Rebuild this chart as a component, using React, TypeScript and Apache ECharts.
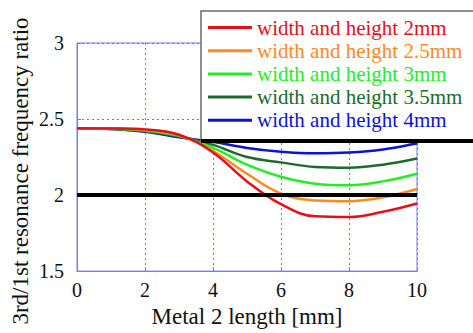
import React, { useEffect, useRef } from "react";
import * as echarts from "echarts";

const xValues = [0, 1, 2, 3, 4, 5, 6, 7, 8, 9, 10];
const seriesNames = [
  "width and height 2mm",
  "width and height 2.5mm",
  "width and height 3mm",
  "width and height 3.5mm",
  "width and height 4mm",
];
const seriesColors = ["#e5101a", "#ff8a1e", "#22ee22", "#1c6b2c", "#0c12d6"];
const ratio2mm = [2.44, 2.438, 2.432, 2.397, 2.28, 2.09, 1.94, 1.86, 1.855, 1.89, 1.945];
const ratio25mm = [2.44, 2.437, 2.428, 2.393, 2.29, 2.14, 2.01, 1.965, 1.96, 1.985, 2.04];
const ratio3mm = [2.44, 2.436, 2.424, 2.389, 2.31, 2.2, 2.12, 2.075, 2.065, 2.09, 2.14];
const ratio35mm = [2.44, 2.435, 2.42, 2.385, 2.33, 2.25, 2.215, 2.185, 2.18, 2.2, 2.24];
const ratio4mm = [2.44, 2.434, 2.416, 2.38, 2.35, 2.31, 2.285, 2.275, 2.28, 2.3, 2.34];
const allRatios = [ratio2mm, ratio25mm, ratio3mm, ratio35mm, ratio4mm];
const thresholdLine = [2, 2];
const thresholdX = [0, 10];

const FONT = "'Liberation Serif', 'Times New Roman', serif";
const AXIS_BLUE = "#7878ff";

export default function App() {
  const ref = useRef<HTMLDivElement>(null);
  useEffect(() => {
    document.body.style.margin = "0";
    const chart = echarts.init(ref.current!, null, { renderer: "svg" });
    const lineSeries = allRatios.map((vals, i) => ({
      name: seriesNames[i],
      type: "line",
      smooth: 0.4,
      showSymbol: false,
      symbol: "none",
      z: 2 + (4 - i) * 0.01,
      lineStyle: { color: seriesColors[i], width: 2.5 },
      itemStyle: { color: seriesColors[i] },
      data: xValues.map((x, j) => [x, vals[j]]),
    }));
    chart.setOption({
      animation: false,
      grid: {
        left: 77,
        top: 43,
        right: 56,
        bottom: 50,
        show: true,
        borderColor: AXIS_BLUE,
        borderWidth: 1,
      },
      xAxis: {
        type: "value",
        min: 0,
        max: 10,
        interval: 2,
        name: "Metal 2 length [mm]",
        nameLocation: "middle",
        nameGap: 24,
        nameTextStyle: { fontFamily: FONT, fontSize: 23, color: "#111" },
        axisLine: { show: true, lineStyle: { color: AXIS_BLUE, width: 1 } },
        axisTick: { show: true, inside: true, length: 4, lineStyle: { color: AXIS_BLUE } },
        axisLabel: { fontFamily: FONT, fontSize: 20, color: "#111", margin: 9 },
        splitLine: { show: true, lineStyle: { color: "#7070ff", type: [2, 3], width: 1 } },
      },
      yAxis: {
        type: "value",
        min: 1.5,
        max: 3,
        interval: 0.5,
        axisLine: { show: true, lineStyle: { color: AXIS_BLUE, width: 1 } },
        axisTick: { show: true, inside: true, length: 4, lineStyle: { color: AXIS_BLUE } },
        axisLabel: { fontFamily: FONT, fontSize: 20, color: "#111", margin: 13 },
        splitLine: { show: true, lineStyle: { color: "#7070ff", type: [2, 3], width: 1 } },
      },
      legend: {
        orient: "vertical",
        left: 208,
        top: 16,
        padding: 0,
        itemWidth: 44,
        itemHeight: 3,
        itemGap: 0.2,
        icon: "rect",
        z: 6,
        textStyle: { fontFamily: FONT, fontSize: 21, lineHeight: 23 },
        data: seriesNames.map((n, i) => ({
          name: n,
          textStyle: { color: seriesColors[i] },
        })),
      },
      graphic: [
        {
          type: "rect",
          z: 5,
          shape: { x: 201, y: 11, width: 290, height: 129 },
          style: { fill: "#ffffff", stroke: "#6a6a6a", lineWidth: 1.5 },
        },
        {
          type: "line",
          z: 5,
          shape: { x1: 201, y1: 141, x2: 480, y2: 141 },
          style: { stroke: "#000", lineWidth: 4 },
        },
        {
          type: "text",
          z: 5,
          x: 20,
          y: 171,
          rotation: Math.PI / 2,
          style: {
            text: "3rd/1st resonance frequency ratio",
            fontFamily: FONT,
            fontSize: 23,
            fill: "#111",
            align: "center",
            verticalAlign: "middle",
          },
        },
      ],
      series: [
        ...lineSeries,
        {
          name: "threshold",
          type: "line",
          showSymbol: false,
          symbol: "none",
          z: 3,
          lineStyle: { color: "#000", width: 4 },
          data: thresholdX.map((x, j) => [x, thresholdLine[j]]),
        },
      ],
    });
    return () => chart.dispose();
  }, []);
  return <div ref={ref} style={{ width: 473, height: 333 }} />;
}
